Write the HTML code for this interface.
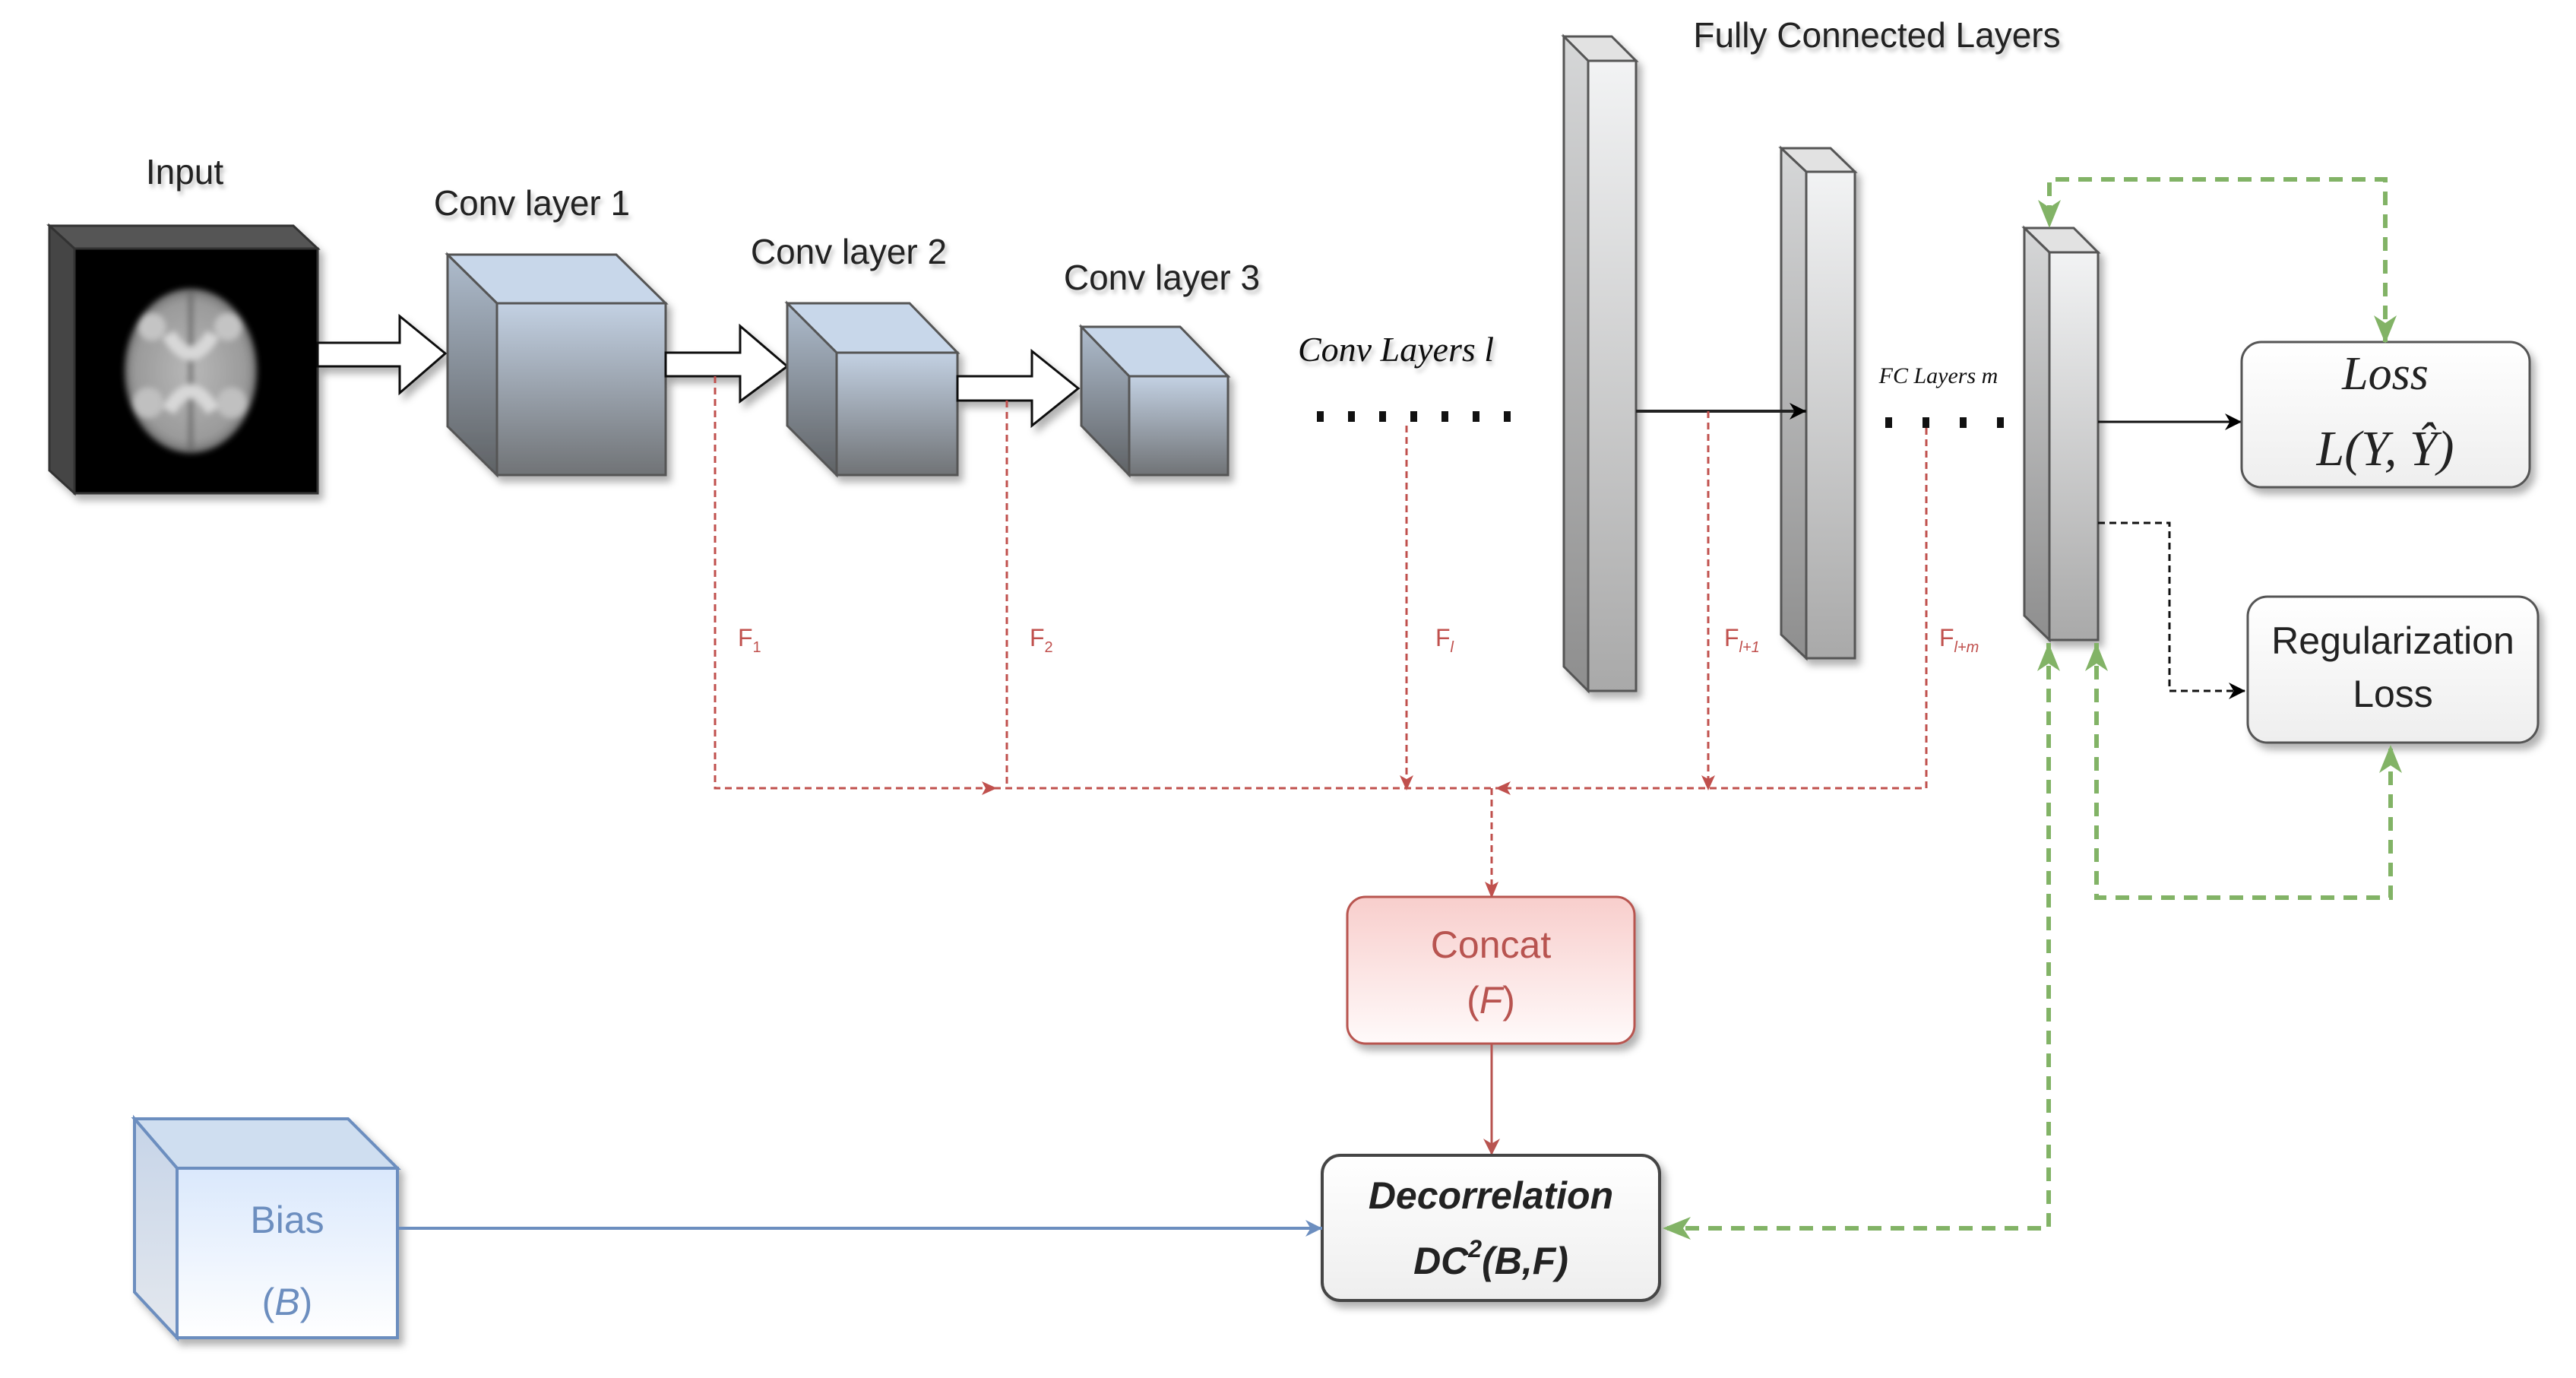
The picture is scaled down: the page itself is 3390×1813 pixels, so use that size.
<!DOCTYPE html>
<html><head><meta charset="utf-8"><style>
html,body{margin:0;padding:0;background:#fff;}
svg{display:block;}
text{font-family:"Liberation Sans",Arial,sans-serif;}
text.serif{font-family:"Liberation Serif","DejaVu Serif",serif;}
</style></head><body>
<svg width="3390" height="1813" viewBox="0 0 3390 1813" xmlns="http://www.w3.org/2000/svg">
<defs>
<filter id="sh" x="-20%" y="-20%" width="140%" height="140%"><feDropShadow dx="6" dy="8" stdDeviation="5" flood-color="#000" flood-opacity="0.3"/></filter>
<filter id="tsh" x="-10%" y="-30%" width="120%" height="160%"><feDropShadow dx="3" dy="5" stdDeviation="3" flood-color="#000" flood-opacity="0.25"/></filter>
<filter id="blur"><feGaussianBlur stdDeviation="4"/></filter>
<linearGradient id="cf" x1="0" y1="0" x2="0" y2="1"><stop offset="0" stop-color="#c3d1e3"/><stop offset="1" stop-color="#707376"/></linearGradient>
<linearGradient id="cl" x1="0" y1="0" x2="0" y2="1"><stop offset="0" stop-color="#aebccd"/><stop offset="1" stop-color="#5f6265"/></linearGradient>
<linearGradient id="ff" x1="0" y1="0" x2="0" y2="1"><stop offset="0" stop-color="#f2f3f4"/><stop offset="1" stop-color="#a9a9a9"/></linearGradient>
<linearGradient id="fl" x1="0" y1="0" x2="0" y2="1"><stop offset="0" stop-color="#d6d7d8"/><stop offset="1" stop-color="#8e8e8e"/></linearGradient>
<linearGradient id="cc" x1="0" y1="0" x2="0" y2="1"><stop offset="0" stop-color="#f8cecc"/><stop offset="1" stop-color="#fffafa"/></linearGradient>
<linearGradient id="gb" x1="0" y1="0" x2="0" y2="1"><stop offset="0" stop-color="#ffffff"/><stop offset="1" stop-color="#eeeeee"/></linearGradient>
<linearGradient id="bf" x1="0" y1="0" x2="0" y2="1"><stop offset="0" stop-color="#dae8fc"/><stop offset="1" stop-color="#ffffff"/></linearGradient>
<linearGradient id="bl" x1="0" y1="0" x2="0" y2="1"><stop offset="0" stop-color="#c6d4e8"/><stop offset="1" stop-color="#e4e8ee"/></linearGradient>
<radialGradient id="brain" cx="0.5" cy="0.5" r="0.5"><stop offset="0" stop-color="#b8b8b8"/><stop offset="0.85" stop-color="#9a9a9a"/><stop offset="1" stop-color="#707070"/></radialGradient>
<marker id="ak" viewBox="0 0 10 10" refX="10" refY="5" markerWidth="22" markerHeight="22" orient="auto" markerUnits="userSpaceOnUse"><path d="M0,0 L10,5 L0,10 L3,5 Z" fill="#000"/></marker>
<marker id="ab" viewBox="0 0 10 10" refX="10" refY="5" markerWidth="22" markerHeight="22" orient="auto" markerUnits="userSpaceOnUse"><path d="M0,0 L10,5 L0,10 L3,5 Z" fill="#6c8ebf"/></marker>
<marker id="rr" viewBox="0 0 10 10" refX="10" refY="5" markerWidth="22" markerHeight="22" orient="auto" markerUnits="userSpaceOnUse"><path d="M0,0 L10,5 L0,10 L3,5 Z" fill="#b85450"/></marker>
</defs>

<!-- Input cube -->
<g filter="url(#sh)">
<polygon points="65,297 386,297 418,327 98,327" fill="#555" stroke="#333" stroke-width="3"/>
<polygon points="65,297 98,327 98,649 65,619" fill="#444" stroke="#333" stroke-width="3"/>
<rect x="98" y="327" width="320" height="322" fill="#050505" stroke="#333" stroke-width="3"/>
</g>
<g filter="url(#blur)">
<ellipse cx="251" cy="488" rx="87" ry="108" fill="url(#brain)"/>
<path d="M251,385 L251,592" stroke="#666" stroke-width="6"/>
<path d="M222,440 Q251,490 280,440 M222,540 Q251,490 280,540" stroke="#d8d8d8" stroke-width="18" fill="none"/>
<circle cx="200" cy="430" r="18" fill="#c4c4c4"/><circle cx="300" cy="430" r="18" fill="#c4c4c4"/>
<circle cx="195" cy="530" r="20" fill="#c0c0c0"/><circle cx="305" cy="530" r="20" fill="#c0c0c0"/>
</g>
<text x="243" y="242" font-size="46" text-anchor="middle" fill="#222" filter="url(#tsh)">Input</text>

<!-- Arrow 1 -->
<polygon points="418,451 526,451 526,416 586,465 526,517 526,482 418,482" fill="#fff" stroke="#111" stroke-width="3" filter="url(#sh)"/>

<!-- Conv1 -->
<g filter="url(#sh)">
<polygon points="589,335 811,335 876,399 654,399" fill="#c8d7ea" stroke="#555" stroke-width="3"/>
<polygon points="589,335 654,399 654,625 589,561" fill="url(#cl)" stroke="#555" stroke-width="3"/>
<rect x="654" y="399" width="222" height="226" fill="url(#cf)" stroke="#555" stroke-width="3"/>
</g>
<text x="700" y="283" font-size="46" text-anchor="middle" fill="#222" filter="url(#tsh)">Conv layer 1</text>

<!-- Arrow 2 -->
<polygon points="876,464 974,464 974,429 1036,482 974,528 974,495 876,495" fill="#fff" stroke="#111" stroke-width="3" filter="url(#sh)"/>

<!-- Conv2 -->
<g filter="url(#sh)">
<polygon points="1036,399 1197,399 1260,464 1101,464" fill="#c8d7ea" stroke="#555" stroke-width="3"/>
<polygon points="1036,399 1101,464 1101,625 1036,560" fill="url(#cl)" stroke="#555" stroke-width="3"/>
<rect x="1101" y="464" width="159" height="161" fill="url(#cf)" stroke="#555" stroke-width="3"/>
</g>
<text x="1117" y="347" font-size="46" text-anchor="middle" fill="#222" filter="url(#tsh)">Conv layer 2</text>

<!-- Arrow 3 -->
<polygon points="1260,495 1358,495 1358,462 1419,511 1358,560 1358,527 1260,527" fill="#fff" stroke="#111" stroke-width="3" filter="url(#sh)"/>

<!-- Conv3 -->
<g filter="url(#sh)">
<polygon points="1423,430 1553,430 1616,495 1486,495" fill="#c8d7ea" stroke="#555" stroke-width="3"/>
<polygon points="1423,430 1486,495 1486,625 1423,560" fill="url(#cl)" stroke="#555" stroke-width="3"/>
<rect x="1486" y="495" width="130" height="130" fill="url(#cf)" stroke="#555" stroke-width="3"/>
</g>
<text x="1529" y="381" font-size="46" text-anchor="middle" fill="#222" filter="url(#tsh)">Conv layer 3</text>

<text class="serif" x="1837" y="475" font-size="46" font-style="italic" text-anchor="middle" fill="#111" filter="url(#tsh)">Conv Layers l</text>
<g fill="#111">
<rect x="1733" y="541" width="9" height="14"/><rect x="1774" y="541" width="9" height="14"/><rect x="1815" y="541" width="9" height="14"/><rect x="1856" y="541" width="9" height="14"/><rect x="1897" y="541" width="9" height="14"/><rect x="1938" y="541" width="9" height="14"/><rect x="1979" y="541" width="9" height="14"/>
<rect x="2481" y="549" width="9" height="14"/><rect x="2530" y="549" width="9" height="14"/><rect x="2579" y="549" width="9" height="14"/><rect x="2628" y="549" width="9" height="14"/>
</g>

<!-- FC bars -->
<g filter="url(#sh)">
<polygon points="2058,48 2121,48 2153,80 2090,80" fill="#e2e2e2" stroke="#555" stroke-width="3"/>
<polygon points="2058,48 2090,80 2090,909 2058,877" fill="url(#fl)" stroke="#555" stroke-width="3"/>
<rect x="2090" y="80" width="63" height="829" fill="url(#ff)" stroke="#555" stroke-width="3"/>
<polygon points="2344,195 2409,195 2441,226 2377,226" fill="#e2e2e2" stroke="#555" stroke-width="3"/>
<polygon points="2344,195 2377,226 2377,866 2344,835" fill="url(#fl)" stroke="#555" stroke-width="3"/>
<rect x="2377" y="226" width="64" height="640" fill="url(#ff)" stroke="#555" stroke-width="3"/>
<polygon points="2664,300 2729,300 2761,332 2697,332" fill="#e2e2e2" stroke="#555" stroke-width="3"/>
<polygon points="2664,300 2697,332 2697,842 2664,810" fill="url(#fl)" stroke="#555" stroke-width="3"/>
<rect x="2697" y="332" width="64" height="510" fill="url(#ff)" stroke="#555" stroke-width="3"/>
</g>
<text x="2470" y="62" font-size="46" text-anchor="middle" fill="#222" filter="url(#tsh)">Fully Connected Layers</text>
<text class="serif" x="2551" y="504" font-size="30" font-style="italic" text-anchor="middle" fill="#111">FC Layers m</text>

<!-- black arrows -->
<line x1="2153" y1="541" x2="2377" y2="541" stroke="#222" stroke-width="4" marker-end="url(#ak)"/>
<line x1="2761" y1="555" x2="2950" y2="555" stroke="#111" stroke-width="3" marker-end="url(#ak)"/>
<polyline points="2761,688 2855,688 2855,909 2955,909" fill="none" stroke="#111" stroke-width="3" stroke-dasharray="9 6" marker-end="url(#ak)"/>

<!-- Loss boxes -->
<rect x="2950" y="450" width="379" height="191" rx="26" fill="url(#gb)" stroke="#555" stroke-width="3" filter="url(#sh)"/>
<text class="serif" x="3139" y="512" font-size="62" font-style="italic" text-anchor="middle" fill="#222">Loss</text>
<text class="serif" x="3139" y="612" font-size="66" font-style="italic" text-anchor="middle" fill="#222">L(Y, Ŷ)</text>
<rect x="2958" y="785" width="382" height="192" rx="26" fill="url(#gb)" stroke="#555" stroke-width="3" filter="url(#sh)"/>
<text x="3149" y="860" font-size="50" text-anchor="middle" fill="#222">Regularization</text>
<text x="3149" y="930" font-size="50" text-anchor="middle" fill="#222">Loss</text>

<!-- Red dashed -->
<g stroke="#c0504d" stroke-width="3" fill="none" stroke-dasharray="9 6">
<polyline points="941,495 941,1037 1308,1037"/>
<line x1="1325" y1="527" x2="1325" y2="1037"/>
<line x1="1851" y1="560" x2="1851" y2="1037"/>
<line x1="2248" y1="541" x2="2248" y2="1037"/>
<polyline points="2535,563 2535,1037 1972,1037"/>
<line x1="1308" y1="1037" x2="1972" y2="1037"/>
<line x1="1963" y1="1037" x2="1963" y2="1180"/>
</g>
<g fill="#c0504d">
<polygon points="1312,1037 1292,1028 1297,1037 1292,1046"/>
<polygon points="1851,1040 1842,1020 1851,1025 1860,1020"/>
<polygon points="2248,1040 2239,1020 2248,1025 2257,1020"/>
<polygon points="1968,1037 1988,1028 1983,1037 1988,1046"/>
<polygon points="1963,1182 1954,1160 1963,1165 1972,1160"/>
</g>
<g fill="#c0504d" font-size="32">
<text x="971" y="850">F<tspan font-size="20" dy="8">1</tspan></text>
<text x="1355" y="850">F<tspan font-size="20" dy="8">2</tspan></text>
<text x="1889" y="850">F<tspan font-size="20" dy="8" font-style="italic">l</tspan></text>
<text x="2269" y="850">F<tspan font-size="20" dy="8" font-style="italic">l+1</tspan></text>
<text x="2552" y="850">F<tspan font-size="20" dy="8" font-style="italic">l+m</tspan></text>
</g>

<!-- Concat -->
<rect x="1773" y="1180" width="378" height="193" rx="24" fill="url(#cc)" stroke="#b85450" stroke-width="3" filter="url(#sh)"/>
<text x="1962" y="1260" font-size="50" text-anchor="middle" fill="#b85450">Concat</text>
<text x="1962" y="1333" font-size="50" text-anchor="middle" fill="#b85450">(<tspan font-style="italic">F</tspan>)</text>
<line x1="1963" y1="1373" x2="1963" y2="1520" stroke="#b85450" stroke-width="3" marker-end="url(#rr)"/>

<!-- Decorrelation -->
<rect x="1740" y="1520" width="444" height="191" rx="24" fill="url(#gb)" stroke="#444" stroke-width="4" filter="url(#sh)"/>
<text x="1962" y="1590" font-size="50" font-weight="bold" font-style="italic" text-anchor="middle" fill="#222">Decorrelation</text>
<text x="1962" y="1676" font-size="50" font-weight="bold" font-style="italic" text-anchor="middle" fill="#222">DC<tspan font-size="32" dy="-22">2</tspan><tspan dy="22">(B,F)</tspan></text>

<!-- Bias cube -->
<g filter="url(#sh)">
<polygon points="177,1472 458,1472 523,1537 233,1537" fill="#cfdef0" stroke="#6c8ebf" stroke-width="4"/>
<polygon points="177,1472 233,1537 233,1760 177,1700" fill="url(#bl)" stroke="#6c8ebf" stroke-width="4"/>
<rect x="233" y="1537" width="290" height="223" fill="url(#bf)" stroke="#6c8ebf" stroke-width="4"/>
</g>
<text x="378" y="1622" font-size="50" text-anchor="middle" fill="#6c8ebf">Bias</text>
<text x="378" y="1730" font-size="50" text-anchor="middle" fill="#6c8ebf">(<tspan font-style="italic">B</tspan>)</text>
<line x1="523" y1="1616" x2="1740" y2="1616" stroke="#6c8ebf" stroke-width="4" marker-end="url(#ab)"/>

<!-- Green dashed -->
<g stroke="#82b366" stroke-width="6" fill="none" stroke-dasharray="18 12">
<polyline points="3139,450 3139,236 2697,236 2697,300"/>
<polyline points="2696,846 2696,1616 2194,1616"/>
<polyline points="2759,846 2759,1181 3146,1181 3146,980"/>
</g>
<g fill="#82b366">
<polygon points="3139,452 3124,415 3139,425 3154,415"/>
<polygon points="2697,300 2682,263 2697,273 2712,263"/>
<polygon points="2696,846 2681,883 2696,873 2711,883"/>
<polygon points="2759,846 2744,883 2759,873 2774,883"/>
<polygon points="3146,980 3131,1017 3146,1007 3161,1017"/>
<polygon points="2188,1616 2225,1601 2215,1616 2225,1631"/>
</g>
</svg>
</body></html>
